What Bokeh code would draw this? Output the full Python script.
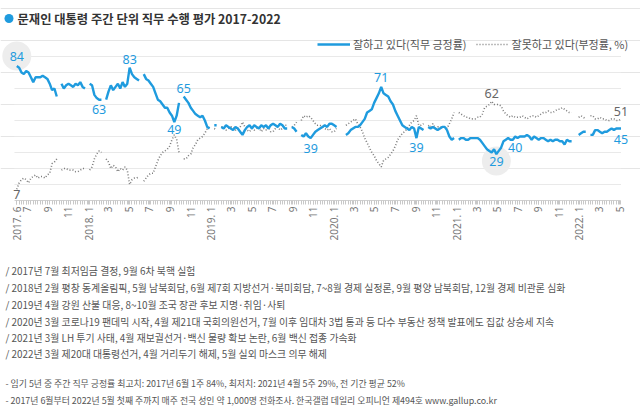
import math
import numpy as np
from datetime import date
from bokeh.plotting import figure
from bokeh.layouts import column
from bokeh.models import (ColumnDataSource, FixedTicker, Legend, LegendItem, Range1d)
from bokeh.core.properties import value
from bokeh.embed import file_html
from bokeh.resources import INLINE

START = date(2017, 6, 1)   # week 0 = 2017 June week 1

# ---------------- data (weekly, None = no survey that week) ----------------
approve_2017 = [84, 83, 80, 79, 81, 80, 77, 74, 77, 77, 77, 78, 77, 76, 73, 69, 70, 65, None,
                73, 70, 72, 73, 72, 71, 73, 72, 74, 71, 70, None]
disapprove_2017 = [7, 11, 13, 14, 13, 11, 14, 15, 16, 14, 15, 15, 14, 16, 17, 23, 24, 26, None,
                   19, 20, 20, 19, 19, 19, 18, 18, 19, 20, 20, None]

approve_2018 = [73, 72, 66, 64, 63, 63, None,
                63, 68, 72, 69, 71, 73, 70, 74, 71, 73, 83, 79, 77, 76, 75, None,
                79, 76, 75, 73, 71, 67, 63, 62, 60, 58, 58, 55, 53, 49, 53, 61, None,
                65, 63, 61, 58, 56, 54, 53, 52, 53, 50, 46, 45]
disapprove_2018 = [19, 21, 26, 29, 31, 30, None,
                   26, 24, 20, 22, 21, 18, 20, 19, 21, 19, 10, 13, 14, 14, 15, None,
                   12, 14, 16, 17, 17, 21, 25, 28, 30, 31, 32, 34, 38, 41, 38, 30, None,
                   26, 26, 28, 29, 33, 35, 38, 39, 40, 42, 45, 46]

approve_2019 = [None, 47, 47, None, 46, 45, 47, 46, 45, 44,
                46, 45, 43, 41, 44, 46, 47, 45, 47, 46,
                45, 47, 46, 47, 45, 47, 48, 47, 46, 48,
                47, 45, 45, None, 46, 45, 43, None, 41, 40,
                42, 40, 39, 41, 43, 44, 45, 46, 47, 46,
                48, 48]
disapprove_2019 = [None, 45, 44, None, 46, 46, 44, 45, 46, 46,
                   44, 45, 46, 49, 46, 44, 43, 45, 44, 45,
                   46, 43, 45, 44, 46, 43, 43, 45, 46, 44,
                   45, 47, 47, None, 46, 47, 49, None, 50, 53,
                   52, 53, 52, 50, 48, 47, 47, 46, 45, 44,
                   45, 43]

approve_2020 = [47, 46, None, 45, None, 41, 42, 44, 45, 46,
                46, 47, 49, 51, 55, 56, 57, 61, 64, 67,
                71, 67, 66, 65, 62, 60, 56, 53, 50, 47,
                46, 45, 44, 46, 45, 39, 46, 45, 44, None,
                46, 45, 46, 45, 44, 45, 46, 46, 44, 40,
                38, 39]
disapprove_2020 = [43, 45, None, 46, None, 47, 48, 49, 50, 51,
                   48, 46, 43, 39, 36, 33, 30, 28, 25, 23,
                   21, 25, 26, 27, 29, 31, 34, 38, 40, 42,
                   43, 45, 47, 49, 50, 53, 47, 47, 48, None,
                   47, 46, 48, 45, 46, 46, 46, 46, 45, 48,
                   51, 55]

approve_2021 = [None, 38, 39, 39, 38, 38, 39, 39, 39, 39,
                38, 36, 34, 32, 31, 30, 32, 29, 31, 33,
                37, 38, 39, 38, 38, 40, 39, 40, 40, 40,
                41, 40, 38, 40, 39, 38, 39, 39, 38, 37,
                38, 37, 38, 38, 37, 37, 35, 38, 37, 37,
                None, None]
disapprove_2021 = [None, 55, 54, 53, 52, 52, 51, 51, 51, 52,
                   52, 54, 58, 59, 60, 62, 60, 60, 60, 59,
                   56, 54, 53, 52, 53, 52, 52, 52, 53, 52,
                   51, 52, 53, 53, 52, 53, 54, 55, 55, 56,
                   55, 55, 56, 57, 57, 58, 57, 56, 55, 55,
                   None, None]

approve_2022 = [41, 42, 43, 43, None, 41, 41, 44, 44, 43,
                42, 43, 43, 44, 45, 44, 45, 45, 45]
disapprove_2022 = [52, 53, 52, 51, None, 53, 53, 51, 51, 52,
                   51, 51, 50, 50, 51, 51, 50, 50, 51]

approve = approve_2017 + approve_2018 + approve_2019 + approve_2020 + approve_2021 + approve_2022
disapprove = (disapprove_2017 + disapprove_2018 + disapprove_2019 + disapprove_2020
              + disapprove_2021 + disapprove_2022)

grid_levels = [10, 20, 30, 40, 50, 60, 70, 80, 90]

# x-axis ticks (year, month) and their labels
tick_months = [(2017, 6), (2017, 7), (2017, 9), (2017, 11),
               (2018, 1), (2018, 3), (2018, 5), (2018, 7), (2018, 9), (2018, 11),
               (2019, 1), (2019, 3), (2019, 5), (2019, 7), (2019, 9), (2019, 11),
               (2020, 1), (2020, 3), (2020, 5), (2020, 7), (2020, 9), (2020, 11),
               (2021, 1), (2021, 3), (2021, 5), (2021, 7), (2021, 9), (2021, 11),
               (2022, 1), (2022, 3), (2022, 5)]
tick_labels = ["2017. 6", "7", "9", "11",
               "2018. 1", "3", "5", "7", "9", "11",
               "2019. 1", "3", "5", "7", "9", "11",
               "2020. 1", "3", "5", "7", "9", "11",
               "2021. 1", "3", "5", "7", "9", "11",
               "2022. 1", "3", "5"]

# highlighted values: (series, week index, offset in px, circled)
callouts = [("approve", 0, -10, True), ("approve", 35, 10, False), ("approve", 48, -8, False),
            ("approve", 67, 7, False), ("approve", 71, -8, False), ("approve", 125, 10, False),
            ("approve", 155, -9, False), ("approve", 170, 9, False), ("approve", 204, 7, True),
            ("approve", 212, 11, False), ("approve", 257, 11, False),
            ("disapprove", 0, 5, False), ("disapprove", 202, -8, False), ("disapprove", 257, -7, False)]

title_text = "문재인 대통령 주간 단위 직무 수행 평가 2017-2022"
legend_labels = ["잘하고 있다(직무 긍정률)", "잘못하고 있다(부정률, %)"]
events = ["/ 2017년 7월 최저임금 결정, 9월 6차 북핵 실험",
          "/ 2018년 2월 평창 동계올림픽, 5월 남북회담, 6월 제7회 지방선거·북미회담, 7~8월 경제 실정론, 9월 평양 남북회담, 12월 경제 비관론 심화",
          "/ 2019년 4월 강원 산불 대응, 8~10월 조국 장관 후보 지명·취임·사퇴",
          "/ 2020년 3월 코로나19 팬데믹 시작, 4월 제21대 국회의원선거, 7월 이후 임대차 3법 통과 등 다수 부동산 정책 발표에도 집값 상승세 지속",
          "/ 2021년 3월 LH 투기 사태, 4월 재보궐선거·백신 물량 확보 논란, 6월 백신 접종 가속화",
          "/ 2022년 3월 제20대 대통령선거, 4월 거리두기 해제, 5월 실외 마스크 의무 해제"]
footnotes = ["- 임기 5년 중 주간 직무 긍정률 최고치: 2017년 6월 1주 84%, 최저치: 2021년 4월 5주 29%, 전 기간 평균 52%",
             "- 2017년 6월부터 2022년 5월 첫째 주까지 매주 전국 성인 약 1,000명 전화조사. 한국갤럽 데일리 오피니언 제494호 www.gallup.co.kr"]

# ---------------- styling / layout ----------------
BLUE = "#1F9BDE"
GRAY = "#7d7d7d"
KFONT = "Noto Sans CJK KR"
W = 640
MAIN_H, AXIS_H = 250, 50                  # main figure height, space under its frame
FRAME_H = MAIN_H - AXIS_H                 # 200 px
NOTES_H = 411 - MAIN_H
PX_PER_VAL = 1.6                          # vertical scale (px per percentage point)
PX_PER_DAY = 0.33585                      # horizontal scale
X_LEFT_PX = 16.3                          # where the first week sits

n = len(approve)
xs = np.arange(n) * 7                     # days since START


def px_to_day(X):
    return (X - X_LEFT_PX) / PX_PER_DAY


def px_to_val(Y):
    return (FRAME_H - Y) / PX_PER_VAL


src = ColumnDataSource(dict(x=xs, a=np.array(approve, dtype=float),
                            d=np.array(disapprove, dtype=float)))

p = figure(width=W, height=MAIN_H, output_backend="svg", toolbar_location=None,
           x_range=Range1d(px_to_day(0), px_to_day(W)), y_range=Range1d(0, px_to_val(0)),
           y_axis_location=None, min_border_left=0, min_border_right=0,
           min_border_top=0, min_border_bottom=AXIS_H)
p.outline_line_color = None
p.xgrid.visible = False
p.background_fill_color = "white"

# horizontal guide lines over the span of the data
p.segment(x0=[xs[0] - 7] * len(grid_levels), x1=[xs[-1]] * len(grid_levels),
          y0=grid_levels, y1=grid_levels, line_color="#e9e9e9", line_width=1)

# x axis
tick_pos = [(date(y, m, 1) - START).days for y, m in tick_months]
p.xaxis.ticker = FixedTicker(ticks=tick_pos, minor_ticks=list(range(0, int(xs[-1]) + 1, 7)))
p.xaxis.bounds = (int(xs[0]) - 7, int(xs[-1]))
p.xaxis.major_label_overrides = {t: s for t, s in zip(tick_pos, tick_labels)}
p.xaxis.major_label_orientation = math.pi / 2
p.xaxis.major_label_text_font = "Noto Sans"
p.xaxis.major_label_text_font_size = "10px"
p.xaxis.major_label_text_color = "#777777"
p.xaxis.major_label_standoff = 2
p.xaxis.axis_line_color = "#d0d0d0"
p.xaxis.major_tick_line_color = "#c8c8c8"
p.xaxis.minor_tick_line_color = "#c8c8c8"
p.xaxis.major_tick_in = 0
p.xaxis.major_tick_out = 4
p.xaxis.minor_tick_in = 0
p.xaxis.minor_tick_out = 4

# circles behind the record high / low
series = {"approve": approve, "disapprove": disapprove}
cx, cy = [], []
for s, i, off, circ in callouts:
    if circ:
        cx.append(xs[i])
        cy.append(series[s][i] - off / PX_PER_VAL)
p.scatter(cx, cy, size=29, fill_color="#ededed", line_color=None)

dl = p.line("x", "d", source=src, line_color=GRAY, line_width=1.6, line_dash="1 2")
al = p.line("x", "a", source=src, line_color=BLUE, line_width=2.4)

lab = dict(x=[], y=[], t=[], off=[], c=[])
for s, i, off, circ in callouts:
    v = series[s][i]
    lab["x"].append(xs[i]); lab["y"].append(v); lab["t"].append(str(v))
    lab["off"].append(off); lab["c"].append(BLUE if s == "approve" else "#666666")
p.text("x", "y", text="t", source=ColumnDataSource(lab), y_offset="off", text_color="c",
       text_align="center", text_baseline="middle", text_font=value("Noto Sans"),
       text_font_size="12.5px")

legend = Legend(items=[LegendItem(label=legend_labels[0], renderers=[al]),
                       LegendItem(label=legend_labels[1], renderers=[dl])],
                location=(317, FRAME_H - 52), orientation="horizontal",
                label_text_font=KFONT, label_text_font_size="11px", label_text_color="#555555",
                glyph_width=33, glyph_height=14, label_height=14, label_standoff=3,
                spacing=9, padding=0, margin=0, background_fill_alpha=0,
                border_line_color=None)
p.add_layout(legend)

# title with bullet
p.scatter([px_to_day(8.5)], [px_to_val(18)], size=9, fill_color=BLUE, line_color=None)
p.text([px_to_day(17)], [px_to_val(18)], text=[title_text], text_font=value(KFONT),
       text_font_size="12.3px", text_font_style="bold", text_color="#333333",
       text_align="left", text_baseline="middle")

# ---------------- notes below the chart ----------------
q = figure(width=W, height=NOTES_H, output_backend="svg", toolbar_location=None,
           x_range=Range1d(0, W), y_range=Range1d(NOTES_H, 0),
           x_axis_location=None, y_axis_location=None,
           min_border_left=0, min_border_right=0, min_border_top=0, min_border_bottom=0)
q.outline_line_color = None
q.xgrid.visible = False
q.ygrid.visible = False
events_y = [270, 287, 304, 321, 337, 353]
foot_y = [383, 400]
q.text([5] * len(events), [yy - MAIN_H for yy in events_y], text=events, text_font=value(KFONT),
       text_font_size="9.9px", text_color="#555555", text_align="left",
       text_baseline="middle")
q.text([5] * len(footnotes), [yy - MAIN_H for yy in foot_y], text=footnotes,
       text_font=value(KFONT), text_font_size="8.9px", text_color="#555555",
       text_align="left", text_baseline="middle")

open("out.html", "w").write(file_html(column(p, q, spacing=0), INLINE))
